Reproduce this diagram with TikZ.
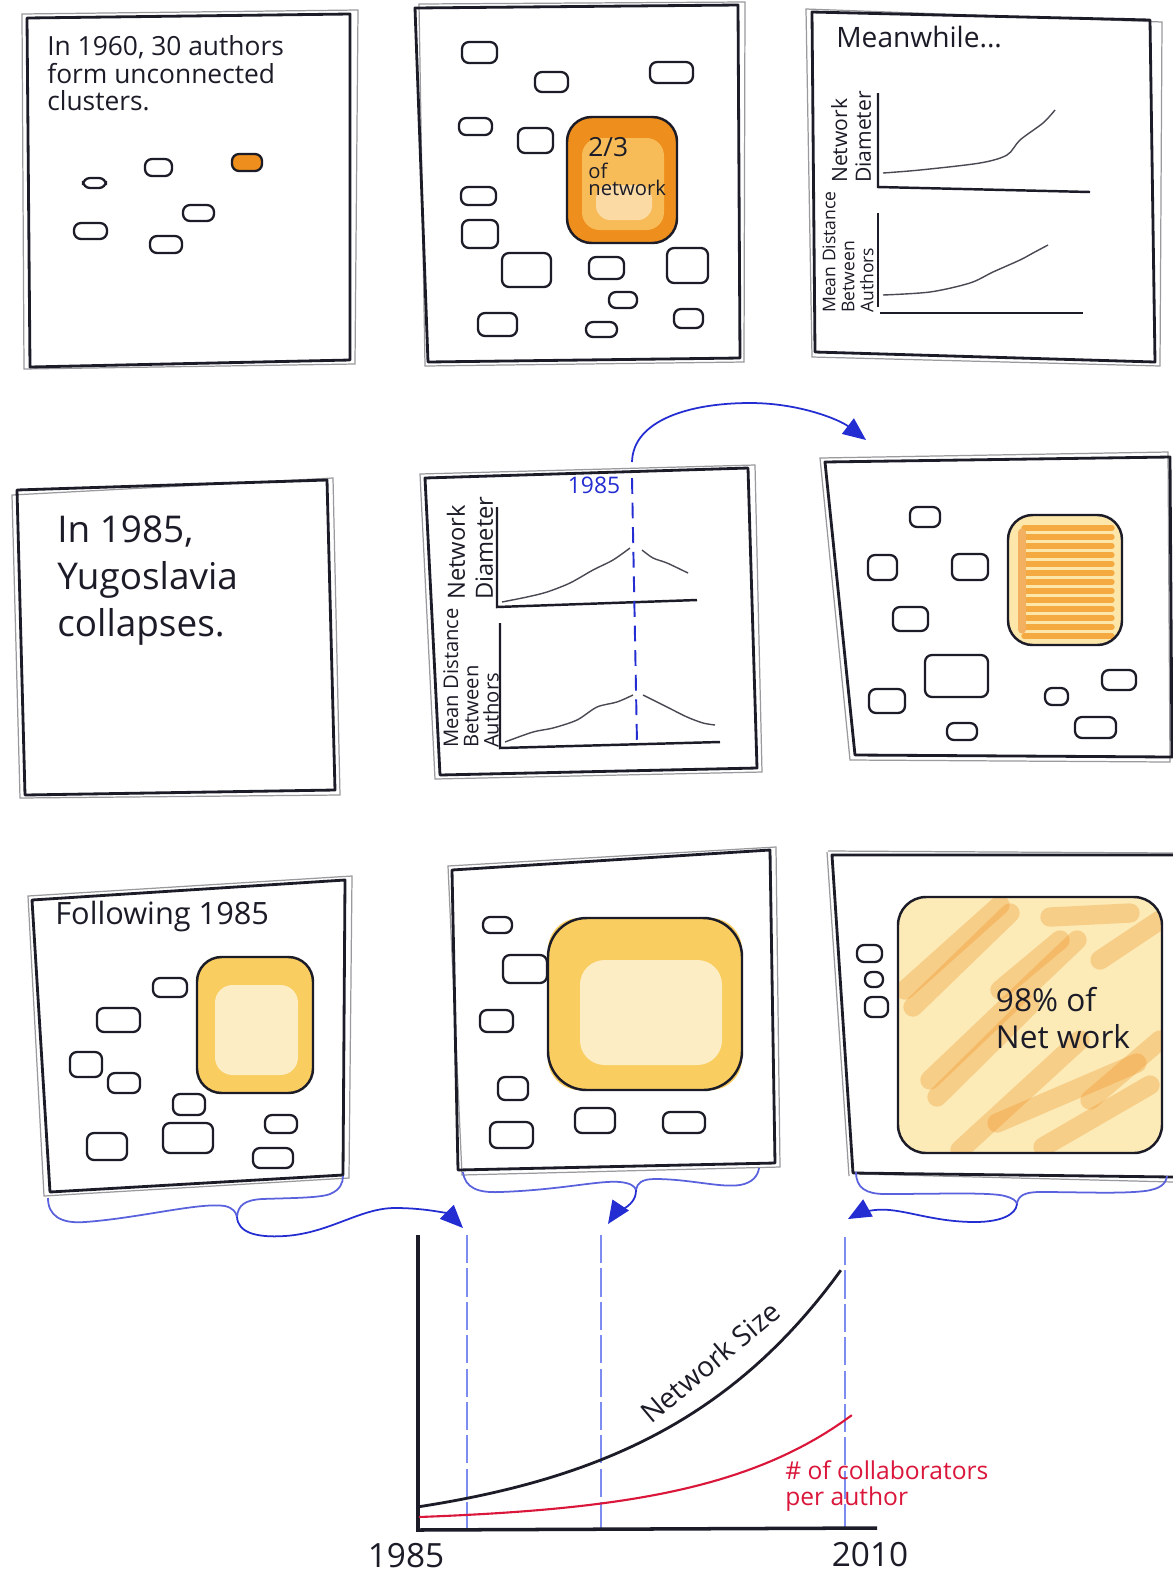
\documentclass[tikz,border=0pt]{standalone}
\usepackage{fontspec}
\setmainfont{Open Sans}
\usetikzlibrary{arrows.meta}

\definecolor{ink}{RGB}{28,28,40}
\definecolor{pen}{RGB}{35,45,210}
\definecolor{penlight}{RGB}{125,140,240}
\definecolor{hot}{RGB}{238,142,28}
\definecolor{warm}{RGB}{247,188,88}
\definecolor{sun}{RGB}{249,205,95}
\definecolor{pale}{RGB}{252,230,170}
\definecolor{redpen}{RGB}{218,22,58}

\tikzstyle{every node}=[font=\normalsize, text=ink, inner sep=0pt]
\tikzstyle{frame}=[draw=ink, line width=1.6pt, line join=round]
\tikzstyle{sketch}=[draw=ink!45, line width=0.7pt]
\tikzstyle{cluster}=[draw=ink, line width=1.3pt, fill=white, rounded corners=4pt]
\tikzstyle{bigcluster}=[draw=ink, line width=1.4pt, rounded corners=14pt]
\tikzstyle{axis}=[draw=ink, line width=1.4pt]
\tikzstyle{trend}=[draw=ink!80, line width=0.8pt]
\tikzstyle{brace}=[draw=pen!75, line width=1pt]
\tikzstyle{link}=[draw=pen, line width=1pt, -{Triangle[length=13pt,width=11pt]}]
\tikzstyle{guide}=[draw=penlight, line width=0.6pt, dash pattern=on 16pt off 3pt]

\begin{document}
\begin{tikzpicture}[x=0.02cm, y=-0.02cm]
            \useasboundingbox (0,0) rectangle (1173,1580);
            \fill[white] (0,0) rectangle (1173,1580);

            % panel 1: 1960
            \draw[sketch] (22,14) -- (358,10) -- (355,364) -- (24,369) -- cycle;
            \draw[frame] (27,18) -- (350,14) -- (350,360) -- (30,367) -- cycle;
            \node[anchor=north west, align=left, font=\fontsize{15}{15.8}\selectfont] (t1960) at (47,35) {In 1960, 30 authors\\form unconnected\\clusters.};
            \foreach \a/\b/\c/\d in {83/178/106/188, 145/159/172/176, 183/205/214/221, 74/223/107/239, 150/236/182/253}
                \draw[cluster] (\a,\b) rectangle (\c,\d);
            \draw[cluster, fill=hot] (232,154) rectangle (262,171);

            % panel 2: two thirds joined
            \draw[sketch] (419,4) -- (745,2) -- (744,362) -- (425,366) -- cycle;
            \draw[frame] (415,8) -- (738,5) -- (740,358) -- (428,362) -- cycle;
            \foreach \a/\b/\c/\d in {462/42/497/63, 535/72/568/92, 650/62/693/83, 459/118/492/135, 518/128/553/153, 461/187/496/205, 462/220/498/248, 502/253/551/287, 589/257/624/279, 667/248/708/283, 609/292/637/308, 478/313/517/336, 586/322/617/337, 674/309/703/328}
                \draw[cluster] (\a,\b) rectangle (\c,\d);
            \fill[hot, rounded corners=14pt] (567,117) rectangle (677,243);
            \fill[warm, rounded corners=10pt] (582,138) rectangle (664,230);
            \fill[warm!55!white, rounded corners=8pt] (596,185) rectangle (652,220);
            \draw[bigcluster] (567,117) rectangle (677,243);
            \node[anchor=north west, align=left, font=\fontsize{11.5}{9.5}\selectfont] (t23) at (588,137) {{\fontsize{15}{15}\selectfont 2/3}\\[3pt]of\\network};

            % panel 3: meanwhile
            \draw[sketch] (806,9) -- (1162,22) -- (1160,366) -- (812,357) -- cycle;
            \draw[frame] (812,12) -- (1150,20) -- (1155,362) -- (815,352) -- cycle;
            \node[anchor=west, font=\fontsize{16}{18}\selectfont] (tmean) at (836,37) {Meanwhile...};
            \draw[axis] (878,93) -- (878,187) -- (1090,192);
            \draw[trend] plot[smooth] coordinates {(883,173) (920,170) (980,163) (1007,155) (1020,140) (1043,123) (1055,110)};
            \node[rotate=90, align=left, font=\fontsize{12}{13.5}\selectfont] (tdia) at (851,137) {Network\\Diameter};
            \draw[axis] (878,213) -- (878,307);
            \draw[axis] (880,313) -- (1083,313);
            \draw[trend] plot[smooth] coordinates {(883,295) (930,292) (970,283) (993,272) (1020,260) (1033,253) (1048,245)};
            \node[rotate=90, align=left, font=\fontsize{10}{10.8}\selectfont] (tdist) at (848,252) {Mean Distance\\Between\\Authors};

            % panel 4: 1985
            \draw[sketch] (12,495) -- (333,478) -- (340,795) -- (20,798) -- cycle;
            \draw[frame] (17,490) -- (327,480) -- (335,790) -- (25,795) -- cycle;
            \node[anchor=north west, align=left, font=\fontsize{21}{27}\selectfont] (t1985) at (57,515) {In 1985,\\Yugoslavia\\collapses.};

            % panel 5: peak at 1985
            \draw[sketch] (420,474) -- (755,465) -- (762,772) -- (435,779) -- cycle;
            \draw[frame] (425,478) -- (748,468) -- (757,768) -- (440,775) -- cycle;
            \draw[axis] (497,507) -- (497,607) -- (697,600);
            \draw[trend] plot[smooth] coordinates {(502,602) (527,597) (547,592) (570,583) (593,570) (613,560) (630,548)};
            \draw[trend] plot[smooth] coordinates {(642,550) (653,558) (667,563) (688,573)};
            \draw[axis] (500,623) -- (500,748) -- (720,742);
            \draw[trend] plot[smooth] coordinates {(505,742) (533,732) (553,728) (577,720) (597,707) (617,702) (633,695)};
            \draw[trend] plot[smooth] coordinates {(643,695) (667,707) (687,717) (703,723) (715,725)};
            \node[rotate=90, align=left, font=\fontsize{13.5}{16}\selectfont] (tdia2) at (470,548) {Network\\Diameter};
            \node[rotate=90, align=left, font=\fontsize{11.5}{11.5}\selectfont] (tdist2) at (471,678) {Mean Distance\\Between\\Authors};
            \coordinate (m85) at (632,462);
            \draw[draw=pen, line width=1.1pt, dash pattern=on 9pt off 5pt] (632,478) -- (637,743);
            \node[text=pen, font=\fontsize{13}{13}\selectfont] (y85a) at (594,485) {1985};

            % panel 6: right after 1985
            \draw[sketch] (820,458) -- (1168,452) -- (1170,762) -- (850,760) -- cycle;
            \draw[frame] (825,462) -- (1170,457) -- (1172,757) -- (855,755) -- cycle;
            \foreach \a/\b/\c/\d in {910/507/940/527, 868/555/897/580, 952/554/988/580, 893/607/928/631, 925/655/988/697, 869/689/905/713, 947/723/977/740, 1045/688/1068/705, 1102/670/1136/690, 1075/717/1116/738}
                \draw[cluster] (\a,\b) rectangle (\c,\d);
            \fill[pale, rounded corners=14pt] (1008,515) rectangle (1122,645);
            \foreach \y in {528,537,...,636}
                \draw[warm!60!hot, line width=3pt, line cap=round] (1024,\y) -- (1112,\y);
            \draw[hot!70, line width=4pt, line cap=round] (1022,532) -- (1022,630);
            \draw[bigcluster] (1008,515) rectangle (1122,645);

            % panel 7: following 1985
            \draw[sketch] (28,896) -- (352,876) -- (349,1178) -- (44,1196) -- cycle;
            \draw[frame] (32,900) -- (345,880) -- (343,1175) -- (50,1192) -- cycle;
            \node[anchor=west, font=\fontsize{17.5}{20}\selectfont] (tfollow) at (55,916) {Following 1985};
            \foreach \a/\b/\c/\d in {153/978/187/997, 97/1008/140/1032, 70/1052/102/1077, 108/1073/140/1093, 173/1094/205/1115, 87/1133/127/1160, 163/1123/213/1153, 265/1115/297/1133, 253/1148/293/1168}
                \draw[cluster] (\a,\b) rectangle (\c,\d);
            \fill[sun, rounded corners=14pt] (197,957) rectangle (313,1093);
            \fill[pale!70!white, rounded corners=10pt] (215,985) rectangle (298,1075);
            \draw[bigcluster] (197,957) rectangle (313,1093);

            % panel 8: giant component grows
            \draw[sketch] (448,866) -- (776,847) -- (780,1167) -- (462,1175) -- cycle;
            \draw[frame] (452,870) -- (770,850) -- (775,1163) -- (458,1170) -- cycle;
            \foreach \a/\b/\c/\d in {483/917/512/933, 503/955/547/983, 480/1010/513/1032, 498/1077/528/1100, 490/1122/533/1148, 575/1108/615/1133, 663/1112/705/1133}
                \draw[cluster] (\a,\b) rectangle (\c,\d);
            \fill[sun, rounded corners=18pt] (548,918) rectangle (742,1090);
            \fill[pale!70!white, rounded corners=14pt] (580,960) rectangle (722,1065);
            \draw[bigcluster, rounded corners=22pt] (548,918) rectangle (742,1090);

            % panel 9: 98 percent
            \draw[sketch] (828,851) -- (1173,853);
            \draw[sketch] (827,852) -- (849,1176);
            \draw[sketch] (860,1174) -- (1173,1182);
            \draw[frame] (1173,855) -- (832,855) -- (853,1173) -- (1173,1177);
            \foreach \a/\b/\c/\d in {857/945/882/962, 865/972/883/987, 865/997/888/1017}
                \draw[cluster] (\a,\b) rectangle (\c,\d);
            \begin{scope}
                \clip[rounded corners=16pt] (898,897) rectangle (1162,1153);
                \fill[pale!85!white] (898,897) rectangle (1162,1153);
                \foreach \a/\b/\c/\d in {905/990/1000/905, 913/1007/1010/913, 930/1080/1077/940, 937/1097/1030/1005, 960/1150/1080/1040, 997/1123/1137/1063, 1043/1147/1150/1085, 1050/917/1130/913, 1100/960/1160/920, 1000/990/1060/940, 1090/1100/1160/1040}
                    \draw[hot, line width=11pt, line cap=round, opacity=0.3] (\a,\b) -- (\c,\d);
            \end{scope}
            \draw[bigcluster, rounded corners=16pt] (898,897) rectangle (1162,1153);
            \node[align=left, font=\fontsize{18}{21}\selectfont] (t98) at (1063,1018) {98\% of\\ Net work};

            % braces under the last row
            \coordinate (b1) at (237,1217);
            \coordinate (b2) at (636,1190);
            \coordinate (b3) at (1017,1204);
            \draw[brace] (48,1198) .. controls (48,1215) and (60,1224) .. (85,1222) .. controls (140,1218) and (200,1202) .. (225,1206) .. controls (233,1208) and (236,1212) .. (b1);
            \draw[brace] (b1) .. controls (238,1205) and (245,1200) .. (262,1199) .. controls (290,1198) and (320,1198) .. (330,1194) .. controls (340,1190) and (343,1183) .. (343,1176);
            \draw[brace] (463,1172) .. controls (465,1188) and (478,1193) .. (500,1192) .. controls (560,1190) and (600,1180) .. (620,1182) .. controls (630,1183) and (635,1186) .. (b2);
            \draw[brace] (b2) .. controls (637,1183) and (642,1179) .. (655,1179) .. controls (690,1179) and (720,1188) .. (740,1185) .. controls (752,1183) and (758,1176) .. (759,1168);
            \draw[brace] (856,1172) .. controls (856,1188) and (866,1194) .. (885,1194) .. controls (940,1194) and (990,1192) .. (1005,1196) .. controls (1012,1198) and (1016,1200) .. (b3);
            \draw[brace] (b3) .. controls (1018,1196) and (1024,1192) .. (1040,1192) .. controls (1080,1192) and (1120,1194) .. (1145,1191) .. controls (1160,1189) and (1166,1184) .. (1167,1176);

            % arrows down to the timeline
            \coordinate (a0) at (866,440);
            \coordinate (a1) at (463,1228);
            \coordinate (a2) at (608,1224);
            \coordinate (a3) at (848,1219);
            \draw[link] (m85) .. controls (633,420) and (690,403) .. (750,403) .. controls (800,403) and (840,420) .. (a0);
            \draw[link] (b1) .. controls (238,1232) and (255,1238) .. (285,1236) .. controls (330,1233) and (360,1208) .. (395,1208) .. controls (430,1208) and (450,1215) .. (a1);
            \draw[link] (b2) .. controls (636,1200) and (630,1205) .. (622,1210) .. controls (616,1214) and (612,1218) .. (a2);
            \draw[link] (b3) .. controls (1016,1215) and (1000,1222) .. (975,1222) .. controls (930,1222) and (900,1207) .. (875,1210) .. controls (865,1211) and (857,1214) .. (a3);

            % timeline chart
            \coordinate (g1) at (467,1235);
            \coordinate (g2) at (601,1235);
            \coordinate (g3) at (845,1237);
            \draw[guide] (g1) -- (467,1530);
            \draw[guide] (g2) -- (601,1530);
            \draw[guide] (g3) -- (845,1530);
            \draw[axis, line width=2pt] (418,1235) -- (418,1530) -- (877,1528);
            \draw[draw=ink, line width=1.6pt] plot[domain=0:1, samples=50, variable=\t] ({417+424*\t}, {1507-237*(exp(2.2*\t)-1)/8.025});
            \draw[draw=redpen, line width=1.2pt] plot[domain=0:1, samples=50, variable=\t] ({419+433*\t}, {1517-102*(exp(3*\t)-1)/19.09});
            \node[rotate=40, font=\fontsize{16}{18}\selectfont] (tsize) at (710,1362) {Network Size};
            \node[anchor=north west, align=left, text=redpen, font=\fontsize{14}{15}\selectfont] (tcollab) at (785,1460) {\# of collaborators\\per author};
            \node[font=\fontsize{19}{19}\selectfont] (y85b) at (406,1556) {1985};
            \node[font=\fontsize{19}{19}\selectfont] (y10) at (870,1555) {2010};
        \end{tikzpicture}
\end{document}
